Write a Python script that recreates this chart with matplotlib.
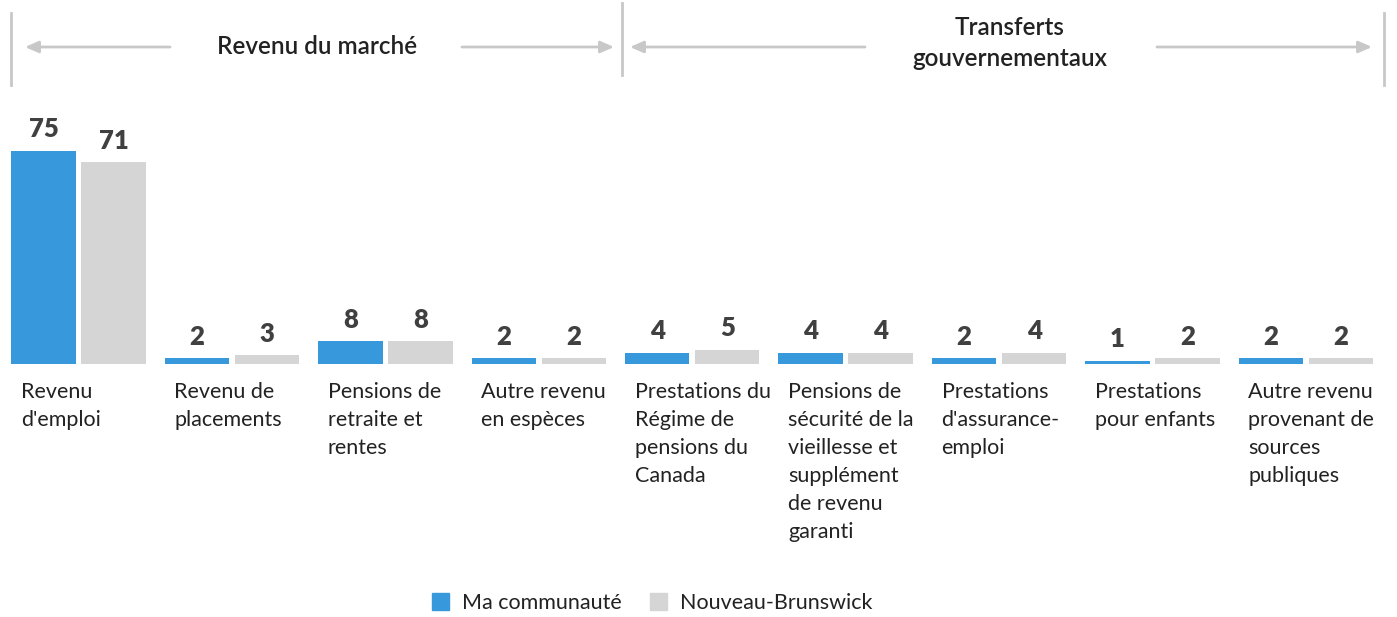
import matplotlib.pyplot as plt
import numpy as np
from matplotlib.patches import Patch

# categories and values (% of total income)
categories = [
    "Revenu\nd'emploi",
    "Revenu de\nplacements",
    "Pensions de\nretraite et\nrentes",
    "Autre revenu\nen espèces",
    "Prestations du\nRégime de\npensions du\nCanada",
    "Pensions de\nsécurité de la\nvieillesse et\nsupplément\nde revenu\ngaranti",
    "Prestations\nd'assurance-\nemploi",
    "Prestations\npour enfants",
    "Autre revenu\nprovenant de\nsources\npubliques",
]
communaute = [75, 2, 8, 2, 4, 4, 2, 1, 2]
nouveau_brunswick = [71, 3, 8, 2, 5, 4, 4, 2, 2]
series_names = ["Ma communauté", "Nouveau-Brunswick"]
sections = ["Revenu du marché", "Transferts\ngouvernementaux"]

BLUE = "#3799db"
GREY = "#d5d5d5"
TEXT = "#222222"
VALUE = "#404040"
RULE = "#c8c8c8"

plt.rcParams["font.family"] = ["Lato", "DejaVu Sans"]

W, H = 1397, 617
fig = plt.figure(figsize=(W / 100, H / 100), dpi=100)

# bar area: baseline at y=364 px from top
base_px = H - 364
ax = fig.add_axes([0, base_px / H, 1, 264 / H])
x = np.arange(len(categories))
width = 0.42
off = 0.228
b1 = ax.bar(x - off, communaute, width, color=BLUE)
b2 = ax.bar(x + off, nouveau_brunswick, width, color=GREY)
for bars in (b1, b2):
    ax.bar_label(bars, padding=7, fontsize=18.5, fontweight="heavy", color=VALUE)

spacing = (1306 - 78.5) / 8
ax.set_xlim(-78.5 / spacing, (W - 78.5) / spacing)
ax.set_ylim(0, 264 / 2.84)
ax.axis("off")

# category labels under each pair
for i, lab in enumerate(categories):
    ax.annotate(lab, xy=(i - 0.375, 0), xycoords="data",
                xytext=(0, -18), textcoords="offset pixels",
                ha="left", va="top", fontsize=15.5, color=TEXT,
                linespacing=1.5)

# section headers: dividers, arrows and titles (figure pixel coords)
def vline(xp, y0, y1):
    fig.add_artist(plt.Line2D([xp / W, xp / W], [1 - y0 / H, 1 - y1 / H],
                              color=RULE, lw=2))

def arrow(x_from, x_to, yp):
    ax.annotate("", xy=(x_to, H - yp), xytext=(x_from, H - yp),
                xycoords="figure pixels", textcoords="figure pixels",
                arrowprops=dict(arrowstyle="-|>,head_length=0.8,head_width=0.35",
                                color=RULE, lw=2, shrinkA=0, shrinkB=0))

vline(11, 13, 85)
vline(622, 3, 75)
vline(1384, 13, 85)
arrow(170, 25, 47)
arrow(462, 614, 47)
arrow(865, 630, 47)
arrow(1157, 1372, 47)

fig.text(317 / W, 1 - 47 / H, sections[0], ha="center", va="center",
         fontsize=17.5, color=TEXT, fontweight="semibold")
fig.text(1010 / W, 1 - 43 / H, sections[1], ha="center", va="center",
         fontsize=17.5, color=TEXT, fontweight="semibold", linespacing=1.4)

handles = [Patch(color=BLUE), Patch(color=GREY)]
fig.legend(handles, series_names, loc="center", bbox_to_anchor=(652 / W, 1 - 603 / H),
           ncol=2, frameon=False, fontsize=15.5, handlelength=0.8, handleheight=0.8,
           handletextpad=0.6, columnspacing=1.3, labelcolor=TEXT)

fig.savefig("out.png", dpi=100)
